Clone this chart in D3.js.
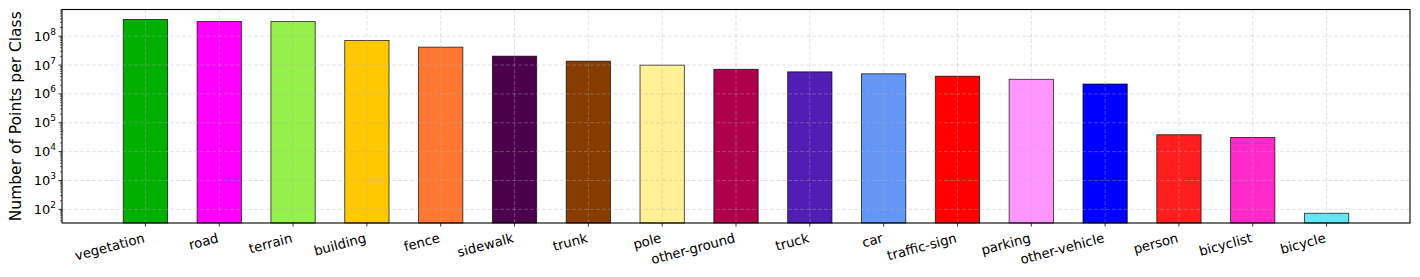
<!DOCTYPE html>
<html>
<head>
<meta charset="utf-8">
<script src="https://cdn.jsdelivr.net/npm/d3@7"></script>
<style>
  body { margin: 0; background: #fff; }
  svg text { font-family: "DejaVu Sans", sans-serif; fill: #000; }
</style>
</head>
<body>
<svg id="chart" width="1420" height="277"></svg>
<script>
// class names, point counts and colours
const classes = ["vegetation", "road", "terrain", "building", "fence", "sidewalk", "trunk", "pole",
  "other-ground", "truck", "car", "traffic-sign", "parking", "other-vehicle", "person", "bicyclist", "bicycle"];
const counts = [3.78e8, 3.23e8, 3.2e8, 7.1e7, 4.16e7, 2.03e7, 1.36e7, 9.9e6,
  7.1e6, 5.8e6, 4.96e6, 4.1e6, 3.2e6, 2.2e6, 3.85e4, 3.1e4, 73];
const colors = ["#00af00", "#ff00ff", "#96f04b", "#ffc800", "#ff7832", "#4b004b", "#873c00", "#fff096",
  "#af004b", "#501eb4", "#6496f5", "#ff0000", "#ff96ff", "#0000ff", "#ff1e1e", "#ff28c8", "#64e6f5"];
const yTicks = [1e2, 1e3, 1e4, 1e5, 1e6, 1e7, 1e8];

const svg = d3.select("#chart");
const margin = {left: 62, right: 10, top: 9.5, bottom: 54};
const W = 1420, H = 277;

const x = d3.scaleLinear()
  .domain([-1.13, classes.length - 1 + 1.13])
  .range([margin.left, W - margin.right]);
const y = d3.scaleLog()
  .domain([33.6, 8.4e8])
  .range([H - margin.bottom, margin.top]);
const barW = x(0.6) - x(0);

// bars
svg.append("g").selectAll("rect")
  .data(counts)
  .enter().append("rect")
  .attr("x", (d, i) => x(i) - barW / 2)
  .attr("width", barW)
  .attr("y", d => y(d))
  .attr("height", d => y.range()[0] - y(d))
  .attr("fill", (d, i) => colors[i])
  .attr("stroke", "#000")
  .attr("stroke-opacity", 0.75)
  .attr("stroke-width", 0.9);

// grid on top of bars
const grid = svg.append("g")
  .attr("stroke", "#b0b0b0")
  .attr("stroke-opacity", 0.45)
  .attr("stroke-dasharray", "4,2")
  .attr("stroke-width", 0.8);
grid.selectAll("line.h").data(yTicks).enter().append("line")
  .attr("x1", x.range()[0]).attr("x2", x.range()[1])
  .attr("y1", d => y(d)).attr("y2", d => y(d));
grid.selectAll("line.v").data(classes).enter().append("line")
  .attr("x1", (d, i) => x(i)).attr("x2", (d, i) => x(i))
  .attr("y1", y.range()[0]).attr("y2", y.range()[1]);

// y axis: major ticks with 10^n labels, minor ticks
const minor = [];
for (let e = 1; e <= 8; e++) for (let m = 2; m <= 9; m++) {
  const v = m * Math.pow(10, e);
  if (v >= y.domain()[0] && v <= y.domain()[1]) minor.push(v);
}
const yAxis = svg.append("g");
yAxis.selectAll("line.minor").data(minor).enter().append("line")
  .attr("x1", margin.left - 2).attr("x2", margin.left)
  .attr("y1", d => y(d)).attr("y2", d => y(d))
  .attr("stroke", "#000").attr("stroke-width", 0.6);
yAxis.selectAll("line.major").data(yTicks).enter().append("line")
  .attr("x1", margin.left - 3.5).attr("x2", margin.left)
  .attr("y1", d => y(d)).attr("y2", d => y(d))
  .attr("stroke", "#000").attr("stroke-width", 0.8);
const lab = yAxis.selectAll("text.tick").data(yTicks).enter().append("text")
  .attr("x", margin.left - 6)
  .attr("y", d => y(d) + 4.5)
  .attr("text-anchor", "end")
  .style("font-size", "13px");
lab.append("tspan").text("10");
lab.append("tspan")
  .attr("dy", -6)
  .style("font-size", "9px")
  .text(d => Math.round(Math.log10(d)));

// x axis ticks and rotated labels
const xAxis = svg.append("g");
xAxis.selectAll("line").data(classes).enter().append("line")
  .attr("x1", (d, i) => x(i)).attr("x2", (d, i) => x(i))
  .attr("y1", y.range()[0]).attr("y2", y.range()[0] + 3.5)
  .attr("stroke", "#000").attr("stroke-width", 0.8);
xAxis.selectAll("text").data(classes).enter().append("text")
  .attr("transform", (d, i) => `translate(${x(i)},${y.range()[0] + 19}) rotate(-15)`)
  .attr("text-anchor", "end")
  .style("font-size", "13.3px")
  .text(d => d);

// frame
svg.append("rect")
  .attr("x", x.range()[0]).attr("y", y.range()[1])
  .attr("width", x.range()[1] - x.range()[0])
  .attr("height", y.range()[0] - y.range()[1])
  .attr("fill", "none").attr("stroke", "#000").attr("stroke-width", 1.1);

// y label
svg.append("text")
  .attr("transform", `translate(21,${(y.range()[0] + y.range()[1]) / 2}) rotate(-90)`)
  .attr("text-anchor", "middle")
  .style("font-size", "15.5px")
  .text("Number of Points per Class");
</script>
</body>
</html>
